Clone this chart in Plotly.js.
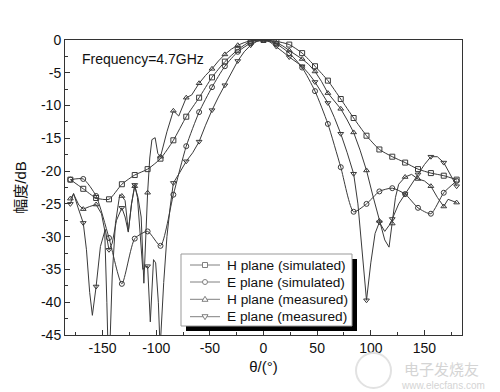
<!DOCTYPE html>
<html><head><meta charset="utf-8">
<script src="https://cdn.plot.ly/plotly-3.0.1.min.js"></script>
<style>html,body{margin:0;padding:0;background:#fff}#chart{width:500px;height:392px}</style>
</head><body><div id="chart"></div>
<script>
const seriesNames = ['H plane (simulated)', 'E plane (simulated)', 'H plane (measured)', 'E plane (measured)'];

const hSimX = [-180,-168,-156,-144,-132,-120,-108,-96,-84,-72,-60,-48,-36,-24,-12,0,12,24,36,48,60,72,84,96,108,120,132,144,156,168,180];
const hSimY = [-21.3,-22.7,-24.1,-24.3,-22.0,-20.6,-19.7,-18.1,-15.3,-11.7,-8.8,-5.7,-3.3,-1.5,-0.2,0,-0.2,-0.7,-2.0,-4.0,-6.2,-9.0,-11.9,-14.6,-16.7,-17.8,-18.7,-19.7,-20.3,-20.7,-21.3];

const eSimX = [-180,-168,-156,-144,-132,-120,-108,-96,-84,-72,-60,-48,-36,-24,-12,0,12,24,36,48,60,72,84,96,108,120,132,144,156,168,180];
const eSimY = [-21.3,-21.2,-23.8,-30.2,-37.2,-30.3,-29.2,-31.4,-23.6,-16.2,-11.0,-7.2,-4.0,-1.8,-0.5,0,-0.6,-2.0,-4.2,-7.8,-12.8,-19.4,-26.2,-25.0,-23.1,-22.6,-23.5,-25.6,-26.5,-23.3,-21.5];

const hMeasX = [-180,-177,-172,-168,-162,-156,-151,-148,-146,-145,-143,-141,-138,-134,-132,-129,-126,-123,-120,-117,-114,-111.5,-108,-106,-104,-101,-98.5,-96,-90,-84,-79,-72,-67,-60,-54,-48,-42,-36,-30,-24,-18,-12,-6,0,6,12,18,24,30,36,42,48,54,60,66,72,78,84,90,96,102,108,113,117,120,123,126,132,138,144,150,156,162,168,172,176,180];
const hMeasY = [-24.2,-23.5,-25.2,-25.8,-25.4,-25.1,-26.5,-29,-40,-46.5,-46,-36,-28,-23.6,-23.8,-24.5,-29.2,-25,-22.3,-24,-27,-37.1,-23.3,-18,-15.2,-14.9,-17.3,-17.8,-14,-10.8,-11.6,-8.8,-8.4,-6.6,-5.4,-4.4,-3.2,-2.2,-1.4,-0.8,-0.4,-0.1,0,0,-0.1,-0.4,-0.9,-1.6,-2.2,-2.9,-3.7,-4.8,-6.3,-8.1,-9.3,-10.5,-12.2,-14.1,-16.8,-19.9,-23.8,-27.6,-30.5,-31.6,-28,-24,-22,-20.9,-20.5,-21.2,-21.5,-22.3,-24,-25.4,-24.3,-24.6,-24.8];

const eMeasX = [-180,-177,-173,-168,-165,-162,-159.5,-156,-152,-147.5,-144,-141,-137,-132,-129,-126,-123,-120,-117.5,-115,-112.5,-110,-108,-105.5,-102.5,-100.5,-98,-96.5,-96,-93,-90,-87,-84,-78,-72,-66,-60,-54,-48,-42,-36,-30,-24,-18,-12,-6,0,6,12,18,24,30,36,42,48,54,60,66,72,78,84,88,92,96,100,104,108,113,117,120,126,132,138,144,150,156,162,168,174,180];
const eMeasY = [-25.0,-23.4,-25.5,-27.9,-32,-38.5,-42,-37.6,-31.5,-28.9,-32.0,-31,-27.5,-25.6,-27,-29.3,-25,-22.1,-24,-29,-35,-34.6,-34.5,-43,-33.5,-34,-40,-46.5,-46,-37,-30,-25.5,-21.8,-20.2,-18.5,-17.2,-15.5,-13,-10.7,-8.7,-6.9,-5,-3.2,-1.8,-0.8,-0.2,0,-0.3,-1.0,-1.8,-2.6,-3.3,-4.0,-5.1,-6.4,-8,-9.6,-11.8,-14.3,-17.2,-20.4,-25,-33,-39.7,-34,-29.5,-27.8,-29.2,-28.3,-27.3,-25,-23.5,-22,-20.5,-19,-17.8,-17.8,-18.7,-20.5,-22.3];

const xTicks = [-150,-100,-50,0,50,100,150];
const yTicks = [0,-5,-10,-15,-20,-25,-30,-35,-40,-45];

const seriesX = [hSimX, eSimX, hMeasX, eMeasX];
const seriesY = [hSimY, eSimY, hMeasY, eMeasY];
const symbols = ['square-open','circle-open','triangle-up-open','triangle-down-open'];
const lineShapes = ['spline','spline','linear','linear'];
const lineColor = '#3a3a3a';
const FONT = 'Liberation Sans, Arial, Noto Sans CJK SC, sans-serif';

// plot area geometry (pixels)
const M = {l: 65, r: 38, t: 40, b: 57};
const W = 500, H = 392;
const PW = W - M.l - M.r, PH = H - M.t - M.b;
const px2x = px => (px - M.l) / PW;
const py2y = py => (H - M.b - py) / PH;

const traces = [];
for (let i = 0; i < 4; i++) {
  const xs = seriesX[i], ys = seriesY[i];
  traces.push({x: xs, y: ys, mode: 'lines', type: 'scatter', showlegend: false, hoverinfo: 'skip',
    line: {color: lineColor, width: 1, shape: lineShapes[i], smoothing: 0.6}});
  const mx = [], my = [];
  xs.forEach((v, k) => { if (Math.abs(v) % 12 === 0) { mx.push(v); my.push(ys[k]); } });
  traces.push({x: mx, y: my, mode: 'markers', type: 'scatter', showlegend: false, hoverinfo: 'skip',
    marker: {symbol: symbols[i], size: 5, color: lineColor, line: {color: lineColor, width: 1}}});
}

// custom legend (box with drop shadow)
const LG = {x0: 181, x1: 352, y0: 254, y1: 326, shadow: 5, rowY: [265, 282, 299.3, 316.7], sx0: 190, sx1: 220, tx: 225};
const legColor = '#808080';
const shapes = [
  {type: 'rect', xref: 'paper', yref: 'paper', layer: 'above',
    x0: px2x(LG.x0 + LG.shadow), x1: px2x(LG.x1 + LG.shadow), y0: py2y(LG.y1 + LG.shadow), y1: py2y(LG.y0 + LG.shadow),
    fillcolor: '#000', line: {width: 0}},
  {type: 'rect', xref: 'paper', yref: 'paper', layer: 'above',
    x0: px2x(LG.x0), x1: px2x(LG.x1), y0: py2y(LG.y1), y1: py2y(LG.y0),
    fillcolor: '#fff', line: {color: '#999', width: 1}},
  // faint watermark logo ring
  {type: 'circle', xref: 'paper', yref: 'paper', layer: 'above',
    x0: px2x(356), x1: px2x(391), y0: py2y(388), y1: py2y(353),
    line: {color: '#e2e2e2', width: 2}}
];
const annotations = [
  {text: 'Frequency=4.7GHz', xref: 'paper', yref: 'paper', x: px2x(80), y: py2y(59), xanchor: 'left', yanchor: 'middle',
    showarrow: false, font: {family: FONT, size: 14, color: '#111'}},
  {text: '电子发烧友', xref: 'paper', yref: 'paper', x: px2x(441), y: py2y(368), xanchor: 'center', yanchor: 'middle',
    showarrow: false, font: {family: 'Noto Sans CJK SC, sans-serif', size: 15, color: '#d4d4d4'}},
  {text: 'www.elecfans.com', xref: 'paper', yref: 'paper', x: px2x(443), y: py2y(385), xanchor: 'center', yanchor: 'middle',
    showarrow: false, font: {family: FONT, size: 10, color: '#d4d4d4'}}
];
const r = 2.5;
for (let i = 0; i < 4; i++) {
  const cy = LG.rowY[i], cx = (LG.sx0 + LG.sx1) / 2;
  shapes.push({type: 'line', xref: 'paper', yref: 'paper', layer: 'above',
    x0: px2x(LG.sx0), x1: px2x(LG.sx1), y0: py2y(cy), y1: py2y(cy), line: {color: legColor, width: 1}});
  const mk = {xref: 'paper', yref: 'paper', layer: 'above', fillcolor: '#fff', line: {color: legColor, width: 1}};
  if (i === 0) Object.assign(mk, {type: 'rect', x0: px2x(cx - r), x1: px2x(cx + r), y0: py2y(cy + r), y1: py2y(cy - r)});
  else if (i === 1) Object.assign(mk, {type: 'circle', x0: px2x(cx - r), x1: px2x(cx + r), y0: py2y(cy + r), y1: py2y(cy - r)});
  else if (i === 2) Object.assign(mk, {type: 'path', path: `M${px2x(cx)},${py2y(cy - 3)} L${px2x(cx + 3)},${py2y(cy + 2)} L${px2x(cx - 3)},${py2y(cy + 2)} Z`});
  else Object.assign(mk, {type: 'path', path: `M${px2x(cx)},${py2y(cy + 3)} L${px2x(cx + 3)},${py2y(cy - 2)} L${px2x(cx - 3)},${py2y(cy - 2)} Z`});
  shapes.push(mk);
  annotations.push({text: seriesNames[i], xref: 'paper', yref: 'paper', x: px2x(LG.tx), y: py2y(cy), xanchor: 'left', yanchor: 'middle',
    showarrow: false, font: {family: FONT, size: 13.7, color: '#111'}});
}

const axisCommon = {showline: true, mirror: true, linecolor: '#333', linewidth: 1, ticks: 'inside', ticklen: 5,
  tickcolor: '#333', showgrid: false, zeroline: false, tickfont: {family: FONT, size: 14, color: '#111'}};

const layout = {
  width: W, height: H,
  margin: M,
  showlegend: false,
  paper_bgcolor: '#fff', plot_bgcolor: '#fff',
  font: {family: FONT, color: '#111'},
  xaxis: Object.assign({}, axisCommon, {range: [-185, 185], tickvals: xTicks, ticktext: xTicks.map(String),
    minor: {ticks: 'inside', ticklen: 3, dtick: 25, tick0: 0, tickcolor: '#333'},
    title: {text: 'θ/(°)', font: {family: FONT, size: 15, color: '#111'}, standoff: 6}}),
  yaxis: Object.assign({}, axisCommon, {range: [-45, 0], tickvals: yTicks, ticktext: yTicks.map(String),
    minor: {ticks: 'inside', ticklen: 3, dtick: 2.5, tick0: 0, tickcolor: '#333'},
    title: {text: '幅度/dB', font: {family: FONT, size: 15, color: '#111'}, standoff: 10}}),
  annotations: annotations,
  shapes: shapes
};

Plotly.newPlot('chart', traces, layout, {staticPlot: true});
</script></body></html>
